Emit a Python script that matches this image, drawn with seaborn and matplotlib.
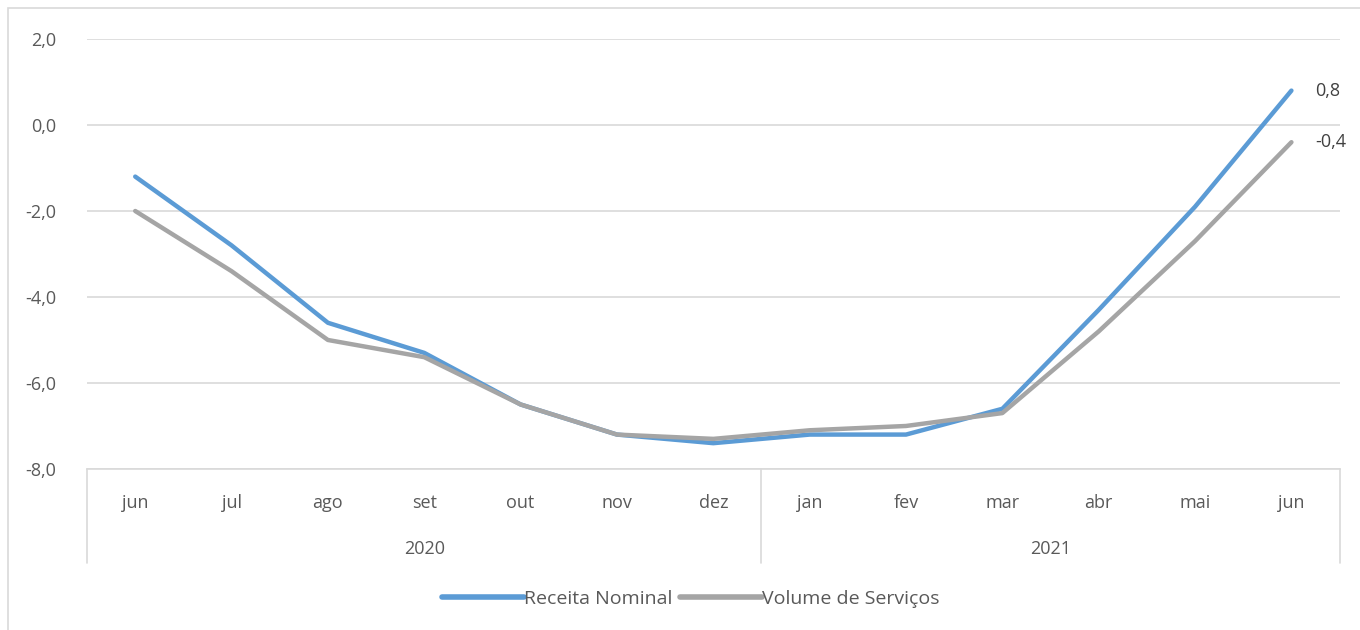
import pandas as pd
import matplotlib.pyplot as plt
import seaborn as sns
from matplotlib.patches import Rectangle

# Chart data
months = ["jun", "jul", "ago", "set", "out", "nov", "dez",
          "jan", "fev", "mar", "abr", "mai", "jun"]
years = ["2020", "2021"]
months_per_year = [7, 6]
receita_nominal = [-1.2, -2.8, -4.6, -5.3, -6.5, -7.2, -7.4,
                   -7.2, -7.2, -6.6, -4.3, -1.9, 0.8]
volume_servicos = [-2.0, -3.4, -5.0, -5.4, -6.5, -7.2, -7.3,
                   -7.1, -7.0, -6.7, -4.8, -2.7, -0.4]
series_names = ["Receita Nominal", "Volume de Serviços"]
y_ticks = [-8, -6, -4, -2, 0, 2]

df = pd.DataFrame({
    "pos": list(range(len(months))) * 2,
    "value": receita_nominal + volume_servicos,
    "serie": [series_names[0]] * len(months) + [series_names[1]] * len(months),
})

sns.set_theme(style="white")
plt.rcParams["font.family"] = ["Open Sans", "DejaVu Sans"]
text_color = "#595959"
grid_color = "#D9D9D9"
colors = {series_names[0]: "#5B9BD5", series_names[1]: "#A5A5A5"}

fig = plt.figure(figsize=(13.6, 6.3), dpi=100)
ax = fig.add_axes([0.064, 0.2556, 0.921, 0.6825])

sns.lineplot(data=df, x="pos", y="value", hue="serie", palette=colors,
             linewidth=3.2, ax=ax, legend=False, solid_capstyle="round")

ax.set_xlim(-0.5, len(months) - 0.5)
ax.set_ylim(-8, 2)
ax.set_yticks(y_ticks)
ax.set_yticklabels([f"{v:.1f}".replace(".", ",") for v in y_ticks],
                   color=text_color, fontsize=13)
ax.tick_params(axis="y", length=0, pad=22)
ax.set_xticks(range(len(months)))
ax.set_xticklabels(months, color=text_color, fontsize=13)
ax.tick_params(axis="x", length=0, pad=18)
ax.set_xlabel("")
ax.set_ylabel("")
ax.yaxis.grid(True, color=grid_color, linewidth=1.2)
for s in ["top", "right", "left"]:
    ax.spines[s].set_visible(False)
ax.spines["bottom"].set_color(grid_color)
ax.spines["bottom"].set_linewidth(1.2)

# year groups and separators below the axis
trans = ax.get_xaxis_transform()
start = 0
bounds = [-0.5]
for year, n in zip(years, months_per_year):
    center = start + (n - 1) / 2
    ax.text(center, -0.187, year, transform=trans, ha="center", va="center",
            color=text_color, fontsize=13)
    start += n
    bounds.append(start - 0.5)
for b in bounds:
    ax.plot([b, b], [0, -0.218], transform=trans, color=grid_color,
            linewidth=1.2, clip_on=False)

# end labels
last = len(months) - 1
ax.annotate(f"{receita_nominal[-1]:.1f}".replace(".", ","), (last, receita_nominal[-1]),
            xytext=(17, 0), textcoords="offset points", va="center",
            color="#404040", fontsize=13)
ax.annotate(f"{volume_servicos[-1]:.1f}".replace(".", ","), (last, volume_servicos[-1]),
            xytext=(17, 0), textcoords="offset points", va="center",
            color="#404040", fontsize=13)

# legend
handles = [plt.Line2D([], [], color=colors[n], linewidth=4) for n in series_names]
fig.legend(handles, series_names, loc="center", bbox_to_anchor=(0.508, 0.05),
           ncol=2, frameon=False, fontsize=14, handlelength=4.2,
           handletextpad=0.0, columnspacing=0.4, labelcolor=text_color)

# chart border
fig.patches.append(Rectangle((0.006, -0.01), 1.2, 0.997, transform=fig.transFigure,
                             fill=False, edgecolor=grid_color, linewidth=1.2))

fig.savefig("out.png", dpi=100)
